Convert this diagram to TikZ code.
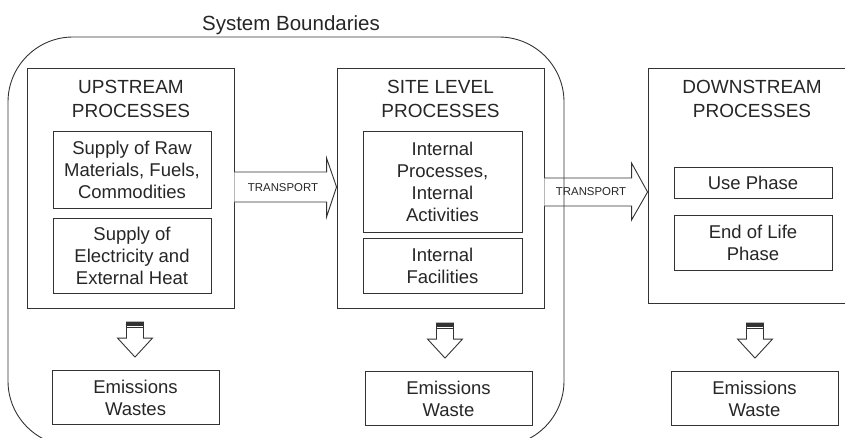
\documentclass[tikz,border=0pt]{standalone}
\usepackage{fontspec}
\setmainfont{Liberation Sans}
\usetikzlibrary{calc}
\begin{document}
\begin{tikzpicture}[x=1pt,y=-1pt,
  every node/.style={text=black!85},
  outerbox/.style={draw=black!80, line width=0.9pt, minimum width=207, inner sep=0},
  innerbox/.style={draw=black!80, line width=0.9pt, minimum width=158, align=center, inner sep=0, font=\fontsize{18.5}{22}\selectfont},
  embox/.style={draw=black!80, line width=0.9pt, minimum width=167, minimum height=54, align=center, inner sep=0, font=\fontsize{18.5}{22}\selectfont},
  heading/.style={align=center, font=\fontsize{19}{24}\selectfont},
  blockarrow/.style={draw=black!80, line width=0.9pt, fill=white, line join=miter}]
\useasboundingbox (0,0) rectangle (845,437);
\clip (0,0) rectangle (845,437);
\node[font=\fontsize{20.5}{24}\selectfont] (sysTitle) at (291,25) {System Boundaries};
% upstream
\node[outerbox, minimum height=240] (upBox) at (130.5,188) {};
\node[heading] (upTitle) at (131,99) {UPSTREAM\\PROCESSES};
\node[innerbox, minimum height=77] (upRaw) at (132,169.5) {Supply of Raw\\Materials, Fuels,\\Commodities};
\node[innerbox, minimum height=75] (upHeat) at (132,255.5) {Supply of\\Electricity and\\External Heat};
\node[embox] (upEm) at (135.5,397.5) {Emissions\\Wastes};
% site level
\node[outerbox, minimum height=240] (siteBox) at (440.5,188) {};
\node[heading] (siteTitle) at (440.5,99) {SITE LEVEL\\PROCESSES};
\node[innerbox, minimum width=159, minimum height=101] (siteInt) at (442.5,181.5) {Internal\\Processes,\\Internal\\Activities};
\node[innerbox, minimum width=159, minimum height=55] (siteFac) at (442.5,265.5) {Internal\\Facilities};
\node[embox] (siteEm) at (448.5,398.5) {Emissions\\Waste};
% downstream
\node[outerbox, minimum height=235] (downBox) at (751.5,185.5) {};
\node[heading] (downTitle) at (752,99) {DOWNSTREAM\\PROCESSES};
\node[innerbox, minimum height=31] (downUse) at (753,182.5) {Use Phase};
\node[innerbox, minimum height=55] (downEol) at (753,242.5) {End of Life\\Phase};
\node[embox] (downEm) at (754.5,398.5) {Emissions\\Waste};
% transport
\draw[blockarrow] ($(upBox.east)+(0,-16)$) -- ($(siteBox.west)+(-10,-16)$) -- ($(siteBox.west)+(-10,-30)$)
  -- ($(siteBox.west)+(0,-1)$) -- ($(siteBox.west)+(-10,29)$) -- ($(siteBox.west)+(-10,14)$) -- ($(upBox.east)+(0,14)$);
\node[font=\fontsize{11.4}{13}\selectfont] (transA) at (283,188) {TRANSPORT};
\draw[blockarrow] ($(siteBox.east)+(0,-10)$) -- ($(downBox.west |- siteBox.east)+(-16,-10)$) -- ($(downBox.west |- siteBox.east)+(-16,-25)$)
  -- ($(downBox.west |- siteBox.east)+(0,4)$) -- ($(downBox.west |- siteBox.east)+(-16,32)$) -- ($(downBox.west |- siteBox.east)+(-16,18)$) -- ($(siteBox.east)+(0,18)$);
\node[font=\fontsize{11.4}{13}\selectfont] (transB) at (591,192) {TRANSPORT};
% outputs
\foreach \n/\dx in {upEm/-0.5, siteEm/-3.5, downEm/0.5}{
  \begin{scope}[shift={($(\n.north)+(\dx,-13)$)}]
    \draw[blockarrow] (-8.5,-35) -- (-8.5,-19) -- (-17.5,-19) -- (0,0) -- (17.5,-19) -- (8.5,-19) -- (8.5,-35) -- cycle;
    \fill[black!80] (-8.5,-35) rectangle (8.5,-31.5);
    \draw[black!80, line width=0.9pt] (-8.5,-29.5) -- (8.5,-29.5);
  \end{scope}
}
% system boundary
\draw[black!80, line width=0.9pt, rounded corners=65] (8,37) rectangle (564,446);
\end{tikzpicture}
\end{document}
